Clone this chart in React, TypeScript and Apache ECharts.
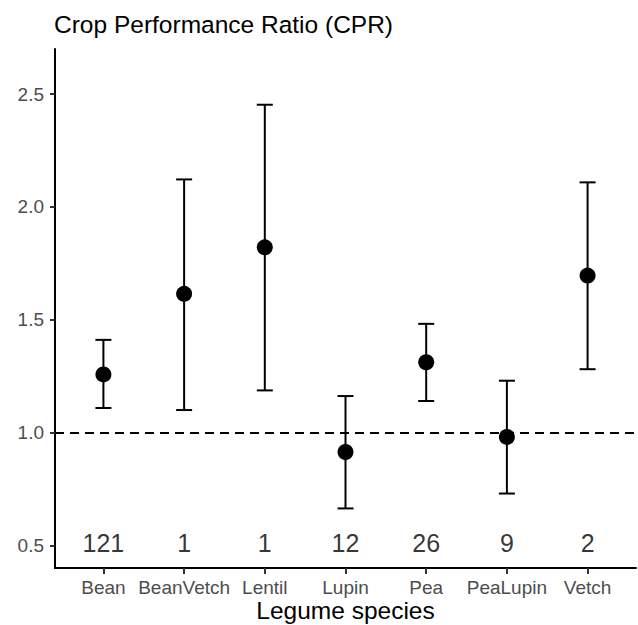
import React, { useEffect, useRef } from "react";
import * as echarts from "echarts";

const categories = ["Bean", "BeanVetch", "Lentil", "Lupin", "Pea", "PeaLupin", "Vetch"];
const estimates = [1.258, 1.615, 1.821, 0.914, 1.312, 0.981, 1.696];
const lower = [1.109, 1.1, 1.187, 0.664, 1.14, 0.73, 1.281];
const upper = [1.411, 2.122, 2.453, 1.162, 1.482, 1.23, 2.109];
const counts = [121, 1, 1, 12, 26, 9, 2];
const yTicks = [0.5, 1.0, 1.5, 2.0, 2.5];
const referenceLine = 1.0;
const countLabelY = 0.5;

const FONT = "'Liberation Sans', Arial, sans-serif";

export default function App() {
  const ref = useRef<HTMLDivElement>(null);
  useEffect(() => {
    if (!ref.current) return;
    const chart = echarts.init(ref.current, null, { renderer: "svg" });
    const xPos = categories.map((_, i) => i + 1);
    chart.setOption({
      animation: false,
      backgroundColor: "#ffffff",
      textStyle: { fontFamily: FONT },
      title: {
        text: "Crop Performance Ratio (CPR)",
        left: 54,
        top: 12,
        padding: 0,
        textStyle: { fontFamily: FONT, fontSize: 24.5, fontWeight: "normal", color: "#000" },
      },
      grid: { left: 55, right: 2, top: 49, bottom: 57, containLabel: false, outerBoundsMode: "none" },
      xAxis: {
        type: "value",
        min: 0.4,
        max: 7.6,
        splitLine: { show: false },
        axisLine: { show: true, onZero: false, lineStyle: { color: "#000", width: 2 } },
        axisTick: { show: true, customValues: xPos, length: 6, lineStyle: { color: "#333", width: 2 } },
        axisLabel: {
          customValues: xPos,
          formatter: (v: number) => categories[Math.round(v) - 1] ?? "",
          color: "#4d4d4d",
          fontSize: 19,
          fontFamily: FONT,
          margin: 10,
        },
        name: "Legume species",
        nameLocation: "middle",
        nameGap: 30,
        nameMoveOverlap: false,
        nameTextStyle: { color: "#000", fontSize: 24.5, fontFamily: FONT },
      },
      yAxis: {
        type: "value",
        min: 0.4,
        max: 2.7,
        splitLine: { show: false },
        axisLine: { show: true, onZero: false, lineStyle: { color: "#000", width: 2 } },
        axisTick: { show: true, customValues: yTicks, length: 5, lineStyle: { color: "#333", width: 2 } },
        axisLabel: {
          customValues: yTicks,
          formatter: (v: number) => v.toFixed(1),
          color: "#4d4d4d",
          fontSize: 19,
          fontFamily: FONT,
          margin: 11,
        },
      },
      series: [
        {
          type: "line",
          data: [],
          z: 1,
          markLine: {
            silent: true,
            symbol: "none",
            label: { show: false },
            lineStyle: { type: [9, 6], color: "#000", width: 2 },
            data: [{ yAxis: referenceLine }],
          },
        },
        {
          type: "custom",
          z: 2,
          data: xPos.map((x, i) => [x, lower[i], upper[i]]),
          renderItem: (params: any, api: any) => {
            const x = api.value(0);
            const lo = api.coord([x, api.value(1)]);
            const hi = api.coord([x, api.value(2)]);
            const hw = 8;
            const style = { stroke: "#000", lineWidth: 2 };
            return {
              type: "group",
              children: [
                { type: "line", shape: { x1: lo[0], y1: lo[1], x2: hi[0], y2: hi[1] }, style },
                { type: "line", shape: { x1: lo[0] - hw, y1: lo[1], x2: lo[0] + hw, y2: lo[1] }, style },
                { type: "line", shape: { x1: hi[0] - hw, y1: hi[1], x2: hi[0] + hw, y2: hi[1] }, style },
              ],
            };
          },
        },
        {
          type: "scatter",
          z: 3,
          symbol: "circle",
          symbolSize: 16,
          itemStyle: { color: "#000", opacity: 1 },
          data: xPos.map((x, i) => [x, estimates[i]]),
        },
        {
          type: "scatter",
          z: 4,
          symbolSize: 0,
          itemStyle: { color: "transparent" },
          label: {
            show: true,
            position: "inside",
            offset: [0, -2],
            formatter: (p: any) => String(counts[p.dataIndex]),
            color: "#000",
            fontSize: 25,
            fontFamily: FONT,
          },
          data: xPos.map((x) => [x, countLabelY]),
        },
      ],
    });
    return () => chart.dispose();
  }, []);
  return (
    <div
      ref={ref}
      style={{ position: "absolute", left: 0, top: 0, width: 638, height: 625 }}
    />
  );
}
